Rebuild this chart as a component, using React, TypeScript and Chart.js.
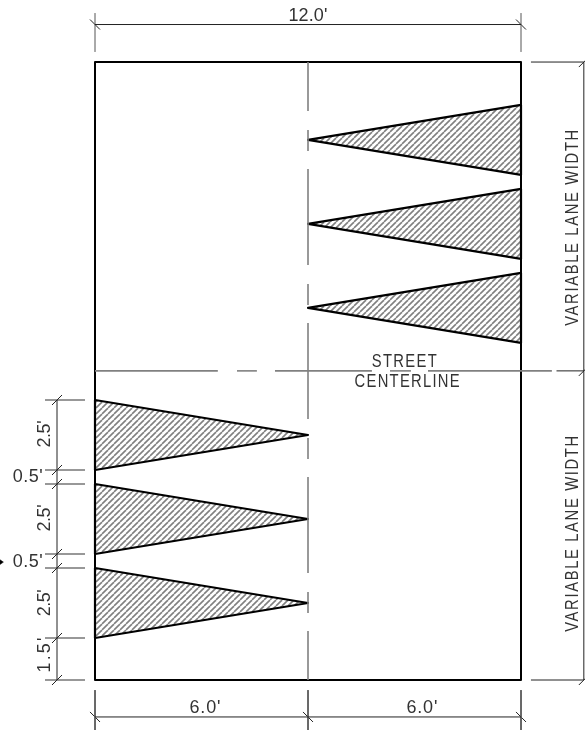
import React, { useEffect, useRef } from "react";
import { Chart, registerables } from "chart.js";

Chart.register(...registerables);

type P = { x: number; y: number };

// All drawing values are in feet; the sheet is scaled differently along its two axes.
const laneWidth = 12;
const centerX = 6;
const laneHeight = 11.04;
const blockHeight = 22.07;
const triangleBase = 2.5;
const leftTriangleStarts = [1.5, 4.5, 7.5];
const rightTriangleStarts = [12.04, 15.04, 18.04];
const bottomStations = [0, 6, 12];
const leftDimStations = [0, 1.5, 4, 4.5, 7, 7.5, 10];
const rightStations = [0, 11.04, 22.07];

const labelTexts = [
  "12.0'",
  "6.0'",
  "6.0'",
  "2.5'",
  "2.5'",
  "2.5'",
  "1.5'",
  "0.5'",
  "0.5'",
  "STREET",
  "CENTERLINE",
  "VARIABLE LANE WIDTH",
  "VARIABLE LANE WIDTH",
];

// Placement of the above, in the same order: x, y (feet), run length (px), rotated
const labelPlacement: [number, number, number, boolean][] = [
  [6, 23.72, 39, false],
  [3.11, -0.99, 31, false],
  [9.22, -0.99, 31, false],
  [-1.41, 8.78, 27, true],
  [-1.41, 5.78, 27, true],
  [-1.41, 2.75, 27, true],
  [-1.41, 0.93, 35, true],
  [-1.887, 7.25, 30, false],
  [-1.887, 4.21, 30, false],
  [8.73, 11.36, 65, false],
  [8.81, 10.64, 105, false],
  [13.46, 16.18, 196, true],
  [13.46, 5.25, 196, true],
];

const topDimY = 23.41;
const topExtension = [22.43, 23.82];
const bottomDimY = -1.32;
const bottomExtension = [-0.36, -1.79];
const leftDimX = -1.07;
const leftExtension = [-1.41, -0.28];
const rightDimX = 13.77;
const rightExtensionStart = [12.28, 13.0, 12.28];
const verticalDash = [96, 19, 21, 18];
const verticalDashOffset = 47;
const horizontalRuns: [number, number][] = [
  [0, 3.46],
  [4.0, 4.56],
  [5.07, 7.8],
  [8.31, 8.9],
  [9.38, 12.87],
];
const leaderTip: P[] = [
  { x: -2.68, y: 4.3 },
  { x: -2.58, y: 4.21 },
  { x: -2.68, y: 4.12 },
];
const tickX = 0.141;
const tickY = 0.179;

function hatch(): CanvasPattern | string {
  const size = 6;
  const c = document.createElement("canvas");
  c.width = size;
  c.height = size;
  const g = c.getContext("2d");
  if (!g) return "#888";
  g.fillStyle = "#fff";
  g.fillRect(0, 0, size, size);
  g.strokeStyle = "#808080";
  g.lineWidth = 1.6;
  for (const o of [-size, 0, size]) {
    g.beginPath();
    g.moveTo(o, size);
    g.lineTo(o + size, 0);
    g.stroke();
  }
  return g.createPattern(c, "repeat") ?? "#888";
}

function line(data: P[], color = "#000", width = 1, extra: object = {}) {
  return {
    data,
    borderColor: color,
    borderWidth: width,
    borderJoinStyle: "round",
    pointRadius: 0,
    showLine: true,
    fill: false,
    tension: 0,
    ...extra,
  };
}

function triangle(baseX: number, tipX: number, start: number, pattern: CanvasPattern | string) {
  return line(
    [
      { x: baseX, y: start },
      { x: tipX, y: start + triangleBase / 2 },
      { x: baseX, y: start + triangleBase },
      { x: baseX, y: start },
    ],
    "#000",
    2.2,
    { fill: "shape", backgroundColor: pattern },
  );
}

const labelPlugin = {
  id: "drawingLabels",
  afterDatasetsDraw(chart: Chart) {
    const { ctx, scales } = chart;
    ctx.save();
    ctx.fillStyle = "#333";
    ctx.textAlign = "center";
    ctx.textBaseline = "middle";
    labelTexts.forEach((text, i) => {
      const [x, y, run, rotated] = labelPlacement[i];
      const squeeze = /^[A-Z ]+$/.test(text) ? 0.82 : 1;
      ctx.font = "18px 'Liberation Sans'";
      (ctx as any).letterSpacing = "0px";
      const base = ctx.measureText(text).width;
      const spacing = (run / squeeze - base) / Math.max(1, text.length - 1);
      (ctx as any).letterSpacing = `${spacing}px`;
      ctx.save();
      ctx.translate(scales.x.getPixelForValue(x), scales.y.getPixelForValue(y));
      if (rotated) ctx.rotate(-Math.PI / 2);
      ctx.scale(squeeze, 1);
      ctx.fillText(text, 0, 0);
      ctx.restore();
    });
    ctx.restore();
  },
};

export default function App() {
  const ref = useRef<HTMLCanvasElement>(null);

  useEffect(() => {
    if (!ref.current) return;
    const pattern = hatch();
    const gray = "#808080";
    const datasets: any[] = [];

    // centre lines
    datasets.push(
      line(
        [
          { x: centerX, y: blockHeight },
          { x: centerX, y: 0 },
        ],
        gray,
        1.6,
        { borderDash: verticalDash, borderDashOffset: verticalDashOffset },
      ),
    );
    for (const [a, b] of horizontalRuns) {
      datasets.push(line([{ x: a, y: laneHeight }, { x: b, y: laneHeight }], gray, 1.6));
    }

    // hatched triangles
    for (const s of leftTriangleStarts) datasets.push(triangle(0, centerX, s, pattern));
    for (const s of rightTriangleStarts) datasets.push(triangle(laneWidth, centerX, s, pattern));

    // lane outline
    datasets.push(
      line(
        [
          { x: 0, y: 0 },
          { x: laneWidth, y: 0 },
          { x: laneWidth, y: blockHeight },
          { x: 0, y: blockHeight },
          { x: 0, y: 0 },
        ],
        "#000",
        2,
      ),
    );

    // top dimension
    datasets.push(line([{ x: 0, y: topDimY }, { x: laneWidth, y: topDimY }], "#222"));
    for (const x of [0, laneWidth]) {
      datasets.push(line([{ x, y: topExtension[0] }, { x, y: topExtension[1] }], "#555"));
      datasets.push(line([{ x: x - tickX, y: topDimY + tickY }, { x: x + tickX, y: topDimY - tickY }], "#222"));
    }

    // bottom dimension
    datasets.push(line([{ x: 0, y: bottomDimY }, { x: laneWidth, y: bottomDimY }], "#222"));
    for (const x of bottomStations) {
      datasets.push(line([{ x, y: bottomExtension[0] }, { x, y: bottomExtension[1] }], "#555"));
      datasets.push(line([{ x: x - tickX, y: bottomDimY + tickY }, { x: x + tickX, y: bottomDimY - tickY }], "#222"));
    }

    // left dimension chain
    datasets.push(line([{ x: leftDimX, y: 0 }, { x: leftDimX, y: 10 }], "#222"));
    for (const y of leftDimStations) {
      datasets.push(line([{ x: leftExtension[0], y }, { x: leftExtension[1], y }], "#333", 1.2));
      datasets.push(line([{ x: leftDimX - tickX, y: y - tickY }, { x: leftDimX + tickX, y: y + tickY }], "#222"));
    }

    // right dimension chain
    datasets.push(line([{ x: rightDimX, y: 0 }, { x: rightDimX, y: blockHeight }], "#222"));
    rightStations.forEach((y, i) => {
      datasets.push(line([{ x: rightExtensionStart[i], y }, { x: rightDimX, y }], "#222"));
      datasets.push(line([{ x: rightDimX - tickX, y: y - tickY }, { x: rightDimX + tickX, y: y + tickY }], "#222"));
    });

    // cropped leader arrowhead
    datasets.push(line(leaderTip, "#000", 0.5, { fill: "shape", backgroundColor: "#000" }));

    const chart = new Chart(ref.current, {
      type: "scatter",
      data: { datasets },
      options: {
        animation: false,
        responsive: false,
        devicePixelRatio: 1,
        layout: { padding: 0 },
        plugins: { legend: { display: false }, tooltip: { enabled: false }, title: { display: false } },
        scales: {
          x: { type: "linear", display: false, min: -95 / 35.5, max: 490 / 35.5 },
          y: { type: "linear", display: false, min: -50 / 28, max: 680 / 28 },
        },
      },
      plugins: [labelPlugin],
    });
    return () => chart.destroy();
  }, []);

  return (
    <div style={{ position: "fixed", left: 0, top: 0, width: 585, height: 730, background: "#fff" }}>
      <canvas ref={ref} width={585} height={730} style={{ display: "block" }} />
    </div>
  );
}
